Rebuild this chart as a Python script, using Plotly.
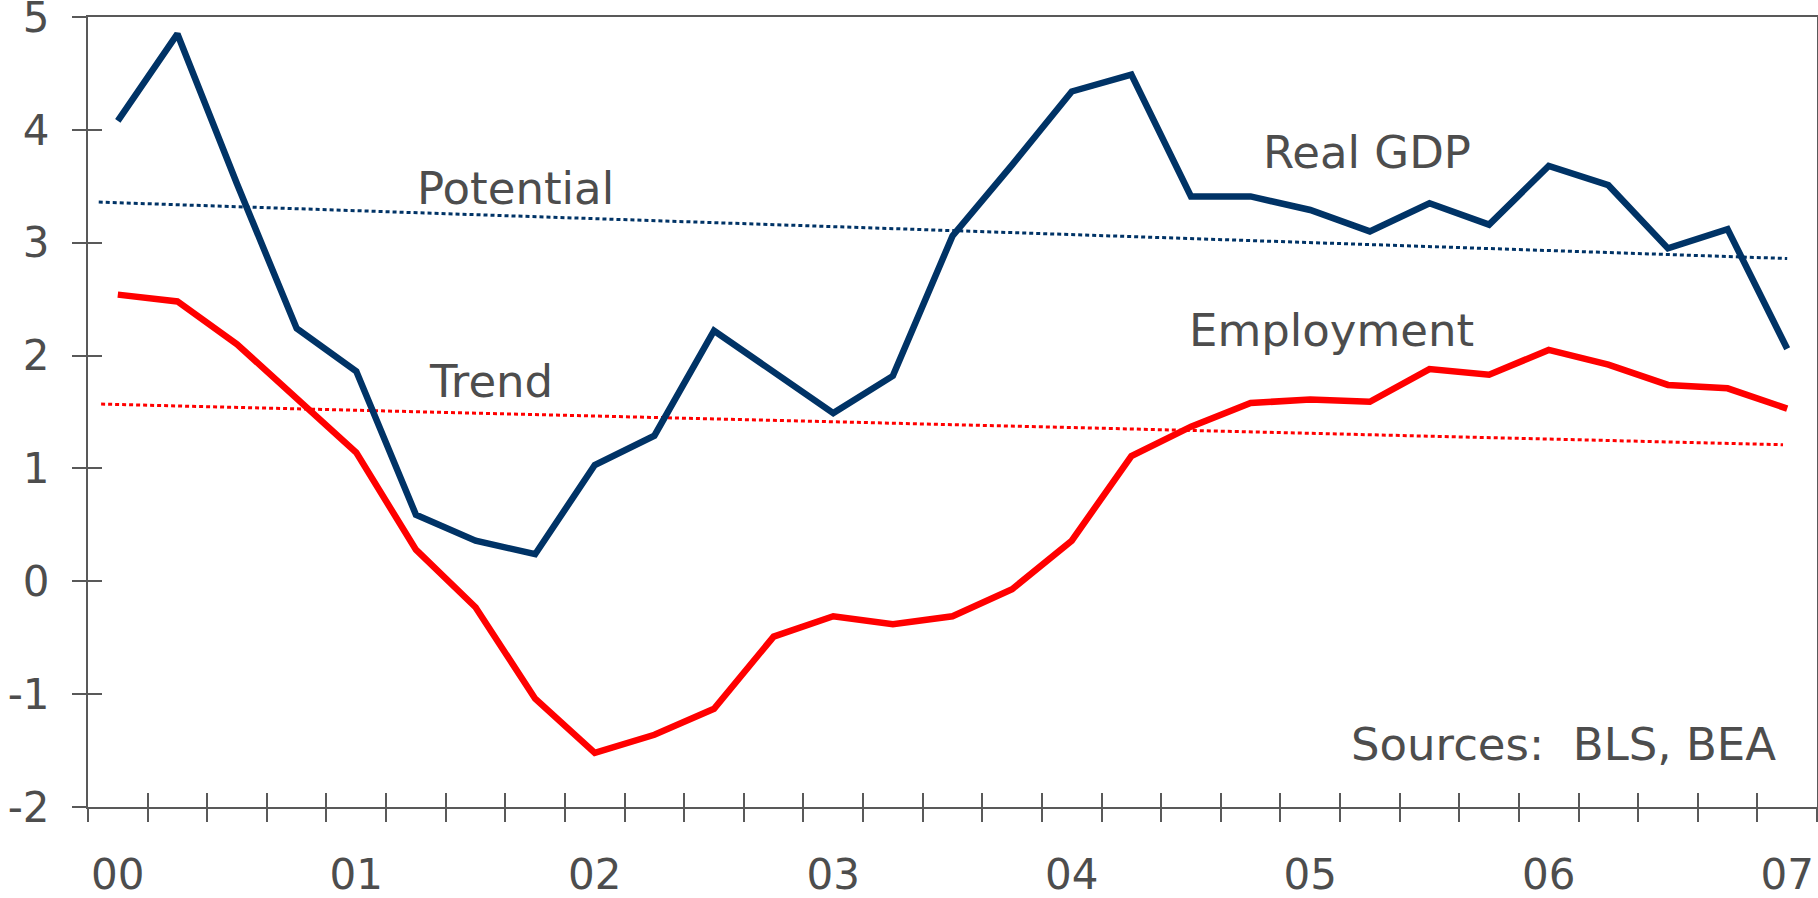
import plotly.graph_objects as go

# ---- data ----
quarters = [f"{y}Q{q}" for y in range(2000, 2007) for q in range(1, 5)] + ["2007Q1"]
real_gdp = [4.08, 4.85, 3.52, 2.24, 1.86, 0.59, 0.36, 0.24,
            1.03, 1.29, 2.22, 1.86, 1.49, 1.82, 3.06, 3.69,
            4.34, 4.49, 3.41, 3.41, 3.29, 3.10, 3.35, 3.16,
            3.68, 3.51, 2.95, 3.12, 2.06]
employment = [2.54, 2.48, 2.10, 1.62, 1.14, 0.28, -0.23, -1.04,
              -1.52, -1.36, -1.13, -0.49, -0.31, -0.38, -0.31, -0.07,
              0.36, 1.11, 1.37, 1.58, 1.61, 1.59, 1.88, 1.83,
              2.05, 1.92, 1.74, 1.71, 1.53]
potential_x = [-0.32, 28.0]
potential_y = [3.36, 2.86]
trend_x = [-0.28, 27.93]
trend_y = [1.57, 1.21]
year_labels = ["00", "01", "02", "03", "04", "05", "06", "07"]
y_ticks = [-2, -1, 0, 1, 2, 3, 4, 5]
y_tick_text = ["-2", "-1", "0", "1", "2", "3", "4", "5"]

idx = list(range(len(quarters)))
label_pos = [i for i, q in enumerate(quarters) if q.endswith("Q1")]
boundaries = [i - 0.5 for i in range(len(quarters) + 1)]

NAVY = "#003366"
RED = "#ff0000"
AX = "#595959"
TXT = "#4d4d4d"
FONT = "DejaVu Sans"

fig = go.Figure()
fig.add_trace(go.Scatter(x=potential_x, y=potential_y, mode="lines",
                         line=dict(color=NAVY, width=3, dash="4px,3px"), hoverinfo="skip"))
fig.add_trace(go.Scatter(x=trend_x, y=trend_y, mode="lines",
                         line=dict(color=RED, width=3, dash="4px,3px"), hoverinfo="skip"))
fig.add_trace(go.Scatter(x=idx, y=employment, mode="lines", name="Employment",
                         line=dict(color=RED, width=6.5)))
fig.add_trace(go.Scatter(x=idx, y=real_gdp, mode="lines", name="Real GDP",
                         line=dict(color=NAVY, width=6.5)))
# helper traces so overlay axes (for crossing tick marks) get drawn
fig.add_trace(go.Scatter(x=[None], y=[None], xaxis="x2", yaxis="y2", mode="lines", hoverinfo="skip"))
fig.add_trace(go.Scatter(x=[None], y=[None], xaxis="x3", yaxis="y", mode="lines", hoverinfo="skip"))

xr = [-0.5, len(quarters) - 0.5]
yr = [-2, 5]

fig.update_layout(
    width=1818, height=898,
    margin=dict(l=88, r=1, t=17, b=91, autoexpand=False),
    paper_bgcolor="white", plot_bgcolor="white",
    showlegend=False,
    font=dict(family=FONT, color=TXT, size=42),
    xaxis=dict(range=xr, tickmode="array", tickvals=label_pos, ticktext=year_labels,
               ticks="", showline=True, linecolor=AX, linewidth=2, mirror=True,
               showgrid=False, zeroline=False, ticklabelstandoff=30, automargin=False,
               ticklabeloverflow="allow",
               tickfont=dict(family=FONT, size=42, color=TXT)),
    xaxis2=dict(range=xr, overlaying="x", tickmode="array", tickvals=boundaries,
                ticks="outside", ticklen=14, tickwidth=2, tickcolor=AX, automargin=False,
                showticklabels=False, showline=False, showgrid=False, zeroline=False),
    xaxis3=dict(range=xr, overlaying="x", tickmode="array", tickvals=boundaries,
                ticks="inside", ticklen=14, tickwidth=2, tickcolor=AX, automargin=False,
                showticklabels=False, showline=False, showgrid=False, zeroline=False),
    yaxis=dict(range=yr, tickmode="array", tickvals=y_ticks, ticktext=y_tick_text,
               ticks="outside", ticklen=14, tickwidth=2, tickcolor=AX,
               showline=True, linecolor=AX, linewidth=2, mirror=True, automargin=False,
               showgrid=False, zeroline=False, ticklabelstandoff=14,
               ticklabeloverflow="allow",
               tickfont=dict(family=FONT, size=42, color=TXT)),
    yaxis2=dict(range=yr, overlaying="y", tickmode="array", tickvals=y_ticks,
                ticks="inside", ticklen=14, tickwidth=2, tickcolor=AX, automargin=False,
                showticklabels=False, showline=False, showgrid=False, zeroline=False),
)

ann_font = dict(family=FONT, size=45, color=TXT)
for text, x, y in [("Potential", 6.67, 3.48), ("Trend", 6.26, 1.77),
                   ("Real GDP", 20.95, 3.80), ("Employment", 20.35, 2.22),
                   ("Sources:\u00a0 BLS, BEA", 24.24, -1.45)]:
    fig.add_annotation(text=text, x=x, y=y, xref="x", yref="y", showarrow=False,
                       xanchor="center", yanchor="middle", font=ann_font)

# remove the browser's default 8px page margin so the figure fills the window
fig.write_html("out.html", config={"displayModeBar": False},
               post_script="document.body.style.margin='0px';")
